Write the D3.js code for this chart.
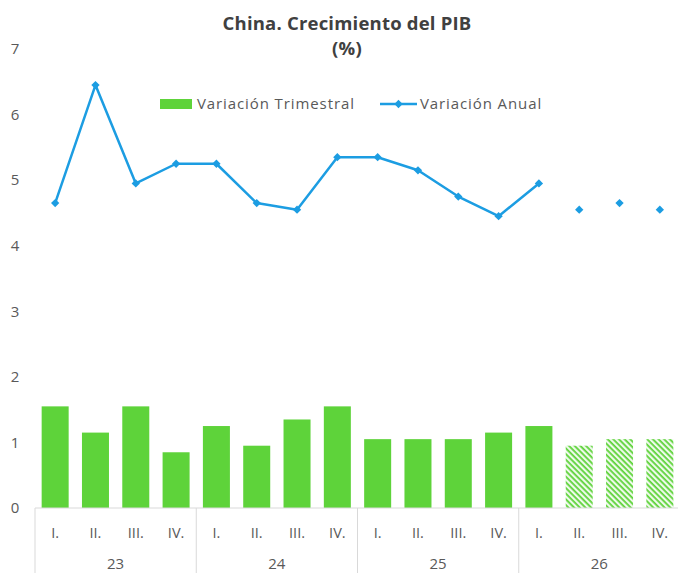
<!DOCTYPE html>
<html><head><meta charset="utf-8">
<script src="https://cdn.jsdelivr.net/npm/d3@7"></script>
<style>body{margin:0;background:#fff}svg{display:block}text{font-family:"Open Sans",Roboto,sans-serif}</style>
</head><body>
<svg id="c" width="678" height="573"></svg>
<script>
const quarters = ["I.","II.","III.","IV."];
const years = ["23","24","25","26"];
const trimestral = [1.55,1.15,1.55,0.85, 1.25,0.95,1.35,1.55, 1.05,1.05,1.05,1.15, 1.25,0.95,1.05,1.05];
const anual = [4.65,6.45,4.95,5.25, 5.25,4.65,4.55,5.35, 5.35,5.15,4.75,4.45, 4.95,4.55,4.65,4.55];
const firstForecast = 13;
const yTicks = [0,1,2,3,4,5,6,7];
const title = ["China. Crecimiento del PIB","(%)"];
const legendLabels = ["Variación Trimestral","Variación Anual"];

const green = "#5ed33a", blue = "#1c9de2", grey = "#595959", axisGrey = "#d9d9d9";
const svg = d3.select("#c");
const idx = d3.range(trimestral.length);
const x0 = 35, x1 = 680;
const x = d3.scaleBand().domain(idx).range([x0, x1]).paddingInner(0.33).paddingOuter(0.165);
const y = d3.scaleLinear().domain([0, 7]).range([508, 49]);

const defs = svg.append("defs");
const pat = defs.append("pattern").attr("id","hatch").attr("patternUnits","userSpaceOnUse")
  .attr("width",4).attr("height",4).attr("patternTransform","rotate(45)");
pat.append("rect").attr("width",4).attr("height",4).attr("fill","#eefaea");
pat.append("rect").attr("width",4).attr("height",1.8).attr("fill",green);

// title
svg.selectAll("text.title").data(title).join("text").attr("class","title")
  .attr("x",347).attr("y",(d,i)=>22+i*25).attr("text-anchor","middle").attr("dominant-baseline","central")
  .attr("font-size",18.5).attr("font-weight","bold").attr("letter-spacing",0.2).attr("fill","#404040").text(d=>d);

// y axis labels
const yAxis = d3.axisLeft(y).tickValues(yTicks).tickSize(0).tickPadding(0).tickFormat(d3.format("d"));
const gy = svg.append("g").attr("transform","translate(20,0)").call(yAxis);
gy.select(".domain").remove();
gy.selectAll("text").attr("font-size",15).attr("fill",grey).attr("text-anchor","middle").attr("dx",-5)
  .style("font-family","'Open Sans',sans-serif");

// bars
svg.selectAll("rect.bar").data(trimestral).join("rect").attr("class","bar")
  .attr("x",(d,i)=>x(i)).attr("width",x.bandwidth())
  .attr("y",d=>y(d)).attr("height",d=>y(0)-y(d))
  .attr("fill",(d,i)=> i>=firstForecast ? "url(#hatch)" : green);

// category axis
const gx = svg.append("g");
gx.append("line").attr("x1",x0).attr("x2",x1).attr("y1",y(0)).attr("y2",y(0)).attr("stroke",axisGrey);
const step = x.step();
const bounds = d3.range(years.length+1).map(k=>x0 + k*4*step);
gx.selectAll("line.sep").data(bounds).join("line").attr("class","sep")
  .attr("x1",d=>d).attr("x2",d=>d).attr("y1",y(0)).attr("y2",573).attr("stroke",axisGrey);
gx.selectAll("text.q").data(idx).join("text").attr("class","q")
  .attr("x",i=>x(i)+x.bandwidth()/2).attr("y",532).attr("text-anchor","middle").attr("dominant-baseline","central")
  .attr("font-size",14.5).attr("fill",grey).text(i=>quarters[i%4]);
gx.selectAll("text.yr").data(years).join("text").attr("class","yr")
  .attr("x",(d,k)=>(bounds[k]+bounds[k+1])/2).attr("y",563).attr("text-anchor","middle").attr("dominant-baseline","central")
  .attr("font-size",15).attr("fill",grey).text(d=>d);

// line
const cx = i=>x(i)+x.bandwidth()/2;
const line = d3.line().x((d,i)=>cx(i)).y(d=>y(d));
svg.append("path").datum(anual.slice(0, firstForecast)).attr("d",line)
  .attr("fill","none").attr("stroke",blue).attr("stroke-width",2.5).attr("stroke-linejoin","round");
const diamond = d3.symbol().type(d3.symbolDiamond2).size(44);
svg.selectAll("path.mk").data(anual).join("path").attr("class","mk")
  .attr("transform",(d,i)=>`translate(${cx(i)},${y(d)})`).attr("d",diamond).attr("fill",blue);

// legend
const lg = svg.append("g");
lg.append("rect").attr("x",160).attr("y",99).attr("width",32).attr("height",10).attr("fill",green);
lg.append("text").attr("x",197).attr("y",103).attr("dominant-baseline","central").attr("font-size",15)
  .attr("letter-spacing",0.9).attr("fill",grey).text(legendLabels[0]);
lg.append("line").attr("x1",380).attr("x2",417).attr("y1",104).attr("y2",104).attr("stroke",blue).attr("stroke-width",2.5);
lg.append("path").attr("transform","translate(398.5,104)").attr("d",diamond).attr("fill",blue);
lg.append("text").attr("x",420).attr("y",103).attr("dominant-baseline","central").attr("font-size",15)
  .attr("letter-spacing",0.9).attr("fill",grey).text(legendLabels[1]);
</script>
</body></html>
